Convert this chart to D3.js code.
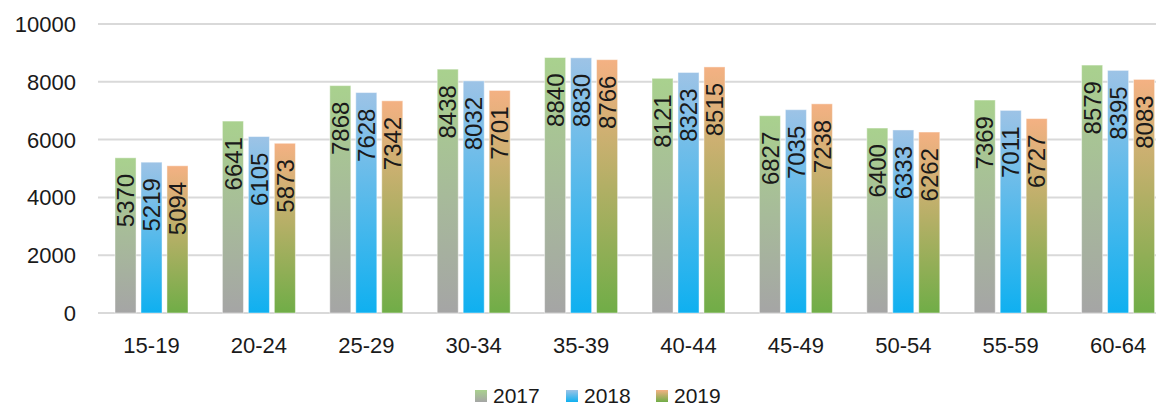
<!DOCTYPE html>
<html><head><meta charset="utf-8">
<script src="https://cdn.jsdelivr.net/npm/d3@7"></script>
<style>
html,body{margin:0;padding:0;background:#fff;}
text{font-family:"Liberation Sans",Arial,sans-serif;fill:#1a1a1a;}
</style></head>
<body><svg id="chart" width="1157" height="408"></svg>
<script>
const categories = ["15-19","20-24","25-29","30-34","35-39","40-44","45-49","50-54","55-59","60-64"];
const seriesNames = ["2017","2018","2019"];
const values2017 = [5370,6641,7868,8438,8840,8121,6827,6400,7369,8579];
const values2018 = [5219,6105,7628,8032,8830,8323,7035,6333,7011,8395];
const values2019 = [5094,5873,7342,7701,8766,8515,7238,6262,6727,8083];
const yTicks = [0,2000,4000,6000,8000,10000];

const series = [values2017, values2018, values2019];
const gradStops = [["#a9d18e","#a5a5a5"],["#9dc3e6","#0fb0f0"],["#f4b183","#70ad47"]];

const svg = d3.select("#chart");
const plotLeft = 98, plotRight = 1156, yTop = 24, yBottom = 313;
const step = 107.4;
const x = d3.scaleBand().domain(categories).range([plotLeft, plotLeft + step*categories.length]).paddingInner(0).paddingOuter(0);
const xInner = d3.scaleBand().domain(seriesNames).range([17, 17+73]).paddingInner(0.19).paddingOuter(0);
const y = d3.scaleLinear().domain([0,10000]).range([yBottom, yTop]);

const defs = svg.append("defs");
gradStops.forEach((c,i)=>{
  const g = defs.append("linearGradient").attr("id","g"+i).attr("x1",0).attr("y1",0).attr("x2",0).attr("y2",1);
  g.append("stop").attr("offset","0%").attr("stop-color",c[0]);
  g.append("stop").attr("offset","100%").attr("stop-color",c[1]);
});

// gridlines
svg.append("g").selectAll("line").data(yTicks).join("line")
  .attr("x1",plotLeft).attr("x2",plotRight)
  .attr("y1",d=>y(d)).attr("y2",d=>y(d))
  .attr("stroke","#d9d9d9").attr("stroke-width",2);

// y axis labels
svg.append("g").selectAll("text").data(yTicks).join("text")
  .attr("x",76).attr("y",d=>y(d)).attr("dy","0.36em")
  .attr("text-anchor","end").attr("font-size",22).text(d=>d);

// bars
const groups = svg.append("g").selectAll("g").data(categories).join("g")
  .attr("transform",d=>`translate(${x(d)},0)`);
seriesNames.forEach((s,si)=>{
  groups.append("rect")
    .attr("x",xInner(s)).attr("width",xInner.bandwidth())
    .attr("y",(d,ci)=>y(series[si][ci]))
    .attr("height",(d,ci)=>yBottom - y(series[si][ci]))
    .attr("fill",`url(#g${si})`)
    .attr("stroke","rgba(255,255,255,0.45)").attr("stroke-width",1);
  groups.append("text")
    .attr("transform",(d,ci)=>`translate(${xInner(s)+xInner.bandwidth()/2},${y(series[si][ci])+16}) rotate(-90)`)
    .attr("text-anchor","end").attr("dy","0.36em").attr("font-size",24)
    .text((d,ci)=>series[si][ci]);
});

// x axis labels
svg.append("g").selectAll("text").data(categories).join("text")
  .attr("x",d=>x(d)+17+73/2).attr("y",353)
  .attr("text-anchor","middle").attr("font-size",22).text(d=>d);

// legend
const legendX = [475,566,656];
const leg = svg.append("g").selectAll("g").data(seriesNames).join("g")
  .attr("transform",(d,i)=>`translate(${legendX[i]},0)`);
leg.append("rect").attr("x",0).attr("y",390).attr("width",12).attr("height",12)
  .attr("fill",(d,i)=>`url(#g${i})`);
leg.append("text").attr("x",18).attr("y",403).attr("font-size",21).text(d=>d);
</script></body></html>
